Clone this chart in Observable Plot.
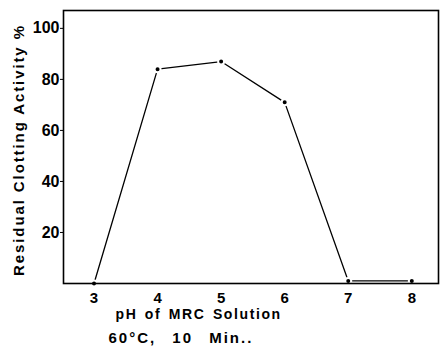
<!DOCTYPE html>
<html>
<head>
<meta charset="utf-8">
<script src="https://cdn.jsdelivr.net/npm/d3@7"></script>
<script src="https://cdn.jsdelivr.net/npm/@observablehq/plot@0.6"></script>
<style>
  html, body { margin: 0; padding: 0; background: white; }
</style>
</head>
<body>
<div id="chart"></div>
<script>
const phValues = [3, 4, 5, 6, 7, 8];
const activity = [0, 84, 87, 71, 1, 1];
const xTicks = [3, 4, 5, 6, 7, 8];
const yTicks = [20, 40, 60, 80, 100];
const yLabel = "Residual Clotting Activity %";
const xLabel = "pH of MRC Solution";
const conditionLabel = "60°C, 10 Min..";

const data = phValues.map((ph, i) => ({ph, act: activity[i]}));

const font = "'Liberation Sans', Arial, Helvetica, sans-serif";

const chart = Plot.plot({
  width: 445,
  height: 355,
  marginLeft: 63,
  marginRight: 7,
  marginTop: 10,
  marginBottom: 72,
  x: {domain: [2.52, 8.42]},
  y: {domain: [0, 107]},
  style: {fontFamily: font, background: "white", color: "black"},
  marks: [
    Plot.line(data, {x: "ph", y: "act", stroke: "black", strokeWidth: 1.3}),
    Plot.dot(data, {x: "ph", y: "act", r: 3, fill: "black", stroke: "white", strokeWidth: 2}),
    Plot.frame({stroke: "black", strokeWidth: 1.6}),
    Plot.axisX({ticks: xTicks, tickFormat: d => String(d), tickSize: 0, tickPadding: 9, fontSize: 15, fontWeight: "bold", label: null}),
    Plot.axisY({ticks: yTicks, tickSize: 3, tickPadding: 1, fontSize: 16, fontWeight: "bold", label: null}),
    Plot.text([yLabel], {text: d => d, frameAnchor: "left", textAnchor: "middle", rotate: -90, dx: -44, dy: 3, fontSize: 15, fontWeight: "bold", className: "ylab"}),
    Plot.text([xLabel], {text: d => d, frameAnchor: "bottom-left", textAnchor: "start", dx: 52, dy: 35, fontSize: 14, fontWeight: "bold", className: "xlab"}),
    Plot.text([conditionLabel], {text: d => d, frameAnchor: "bottom-left", textAnchor: "start", dx: 45, dy: 59, fontSize: 15, fontWeight: "bold", className: "cond"})
  ]
});

document.getElementById("chart").appendChild(chart);
d3.select(chart).selectAll(".ylab text").attr("letter-spacing", "1.9");
d3.select(chart).selectAll(".xlab text").attr("letter-spacing", "1.6").attr("word-spacing", "2");
d3.select(chart).selectAll(".cond text").attr("letter-spacing", "2").attr("word-spacing", "10");
</script>
</body>
</html>
